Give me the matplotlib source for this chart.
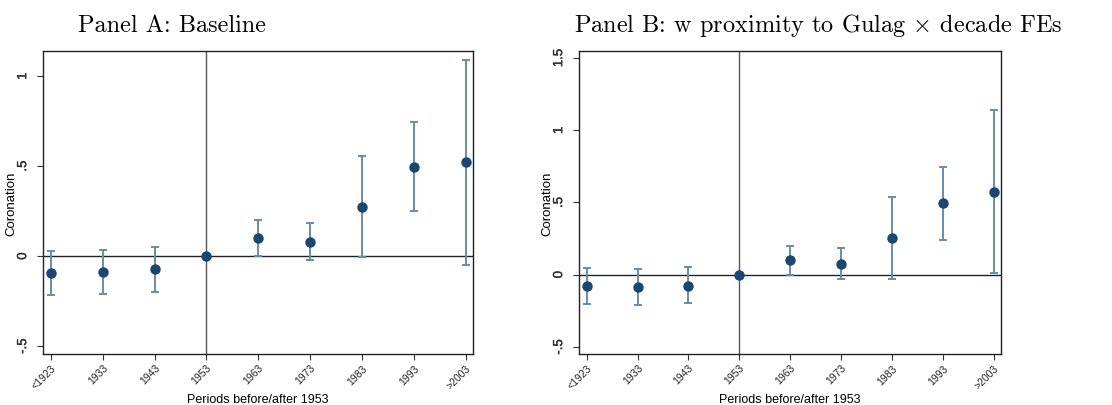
import matplotlib
matplotlib.use("Agg")
import matplotlib.pyplot as plt
import matplotlib.patheffects as pe
import numpy as np

periods = ["<1923", "1933", "1943", "1953", "1963", "1973", "1983", "1993", ">2003"]

a_coef = [-0.094, -0.087, -0.074, 0.0, 0.102, 0.078, 0.272, 0.496, 0.522]
a_lo = [-0.217, -0.209, -0.198, np.nan, 0.002, -0.024, -0.006, 0.248, -0.048]
a_hi = [0.030, 0.035, 0.048, np.nan, 0.202, 0.181, 0.554, 0.744, 1.091]

b_coef = [-0.081, -0.085, -0.076, 0.0, 0.099, 0.074, 0.254, 0.494, 0.575]
b_lo = [-0.205, -0.208, -0.198, np.nan, 0.0, -0.032, -0.030, 0.242, 0.009]
b_hi = [0.044, 0.039, 0.051, np.nan, 0.201, 0.182, 0.540, 0.748, 1.140]

a_yticks = [-0.5, 0, 0.5, 1]
a_ylabels = ["-.5", "0", ".5", "1"]
b_yticks = [-0.5, 0, 0.5, 1, 1.5]
b_ylabels = ["-.5", "0", ".5", "1", "1.5"]

plt.rcParams['font.family'] = ['Liberation Sans', 'DejaVu Sans']
plt.rcParams['mathtext.fontset'] = 'cm'

W, H = 1112, 406
fig = plt.figure(figsize=(W / 100, H / 100), dpi=100)

marker_c = "#1a476f"
bar_c = "#6a8bab"
thick = [pe.withStroke(linewidth=0.3, foreground="#333333")]


def make_ax(box, coef, lo, hi, ylim, yticks, ylabels):
    l, t, r, b = box
    ax = fig.add_axes([l / W, 1 - b / H, (r - l) / W, (b - t) / H])
    x = np.arange(len(periods))
    coef = np.array(coef)
    lo = np.array(lo)
    hi = np.array(hi)
    ax.axhline(0, color="#222222", lw=1.0, zorder=1)
    ax.axvline(3, color="#555555", lw=1.0, zorder=1)
    m = ~np.isnan(lo)
    ax.errorbar(x[m], coef[m], yerr=[coef[m] - lo[m], hi[m] - coef[m]], fmt="none",
                ecolor=bar_c, elinewidth=1.4, capsize=3, capthick=1.4, zorder=2)
    ax.plot(x, coef, "o", color=marker_c, ms=6.5, zorder=3, linestyle="none")
    ax.set_xlim(-0.15, 8.14)
    ax.set_ylim(*ylim)
    ax.set_xticks(x)
    ax.set_xticklabels(periods, rotation=45, ha="right", rotation_mode="anchor", fontsize=7.5,
                       color="#222222")
    ax.set_yticks(yticks)
    ax.set_yticklabels(ylabels, rotation=90, va="center", fontsize=9.5, color="#333333")
    for lab in ax.get_yticklabels():
        lab.set_path_effects(thick)
    ax.tick_params(length=4, width=0.8, color="#333333")
    ax.tick_params(axis='x', pad=2)
    ax.tick_params(axis='y', pad=6)
    for s in ax.spines.values():
        s.set_linewidth(1.0)
        s.set_color("#222222")
    ax.set_xlabel("Periods before/after 1953", fontsize=9, labelpad=2)
    ax.set_ylabel("Coronation", fontsize=9.5, labelpad=0)
    return ax


make_ax((43, 52, 473, 355), a_coef, a_lo, a_hi, (-0.544, 1.139), a_yticks, a_ylabels)
make_ax((579, 52, 1001, 355), b_coef, b_lo, b_hi, (-0.549, 1.548), b_yticks, b_ylabels)

fig.text(172 / W, 1 - 32 / H, "Panel A: Baseline", family="cmr10", fontsize=17.5,
         ha="center", va="baseline")
fig.text(818 / W, 1 - 32 / H, "Panel B: w proximity to Gulag $\\times$ decade FEs", family="cmr10",
         fontsize=17.5, ha="center", va="baseline")

fig.savefig("out.png", dpi=100, facecolor="white")
